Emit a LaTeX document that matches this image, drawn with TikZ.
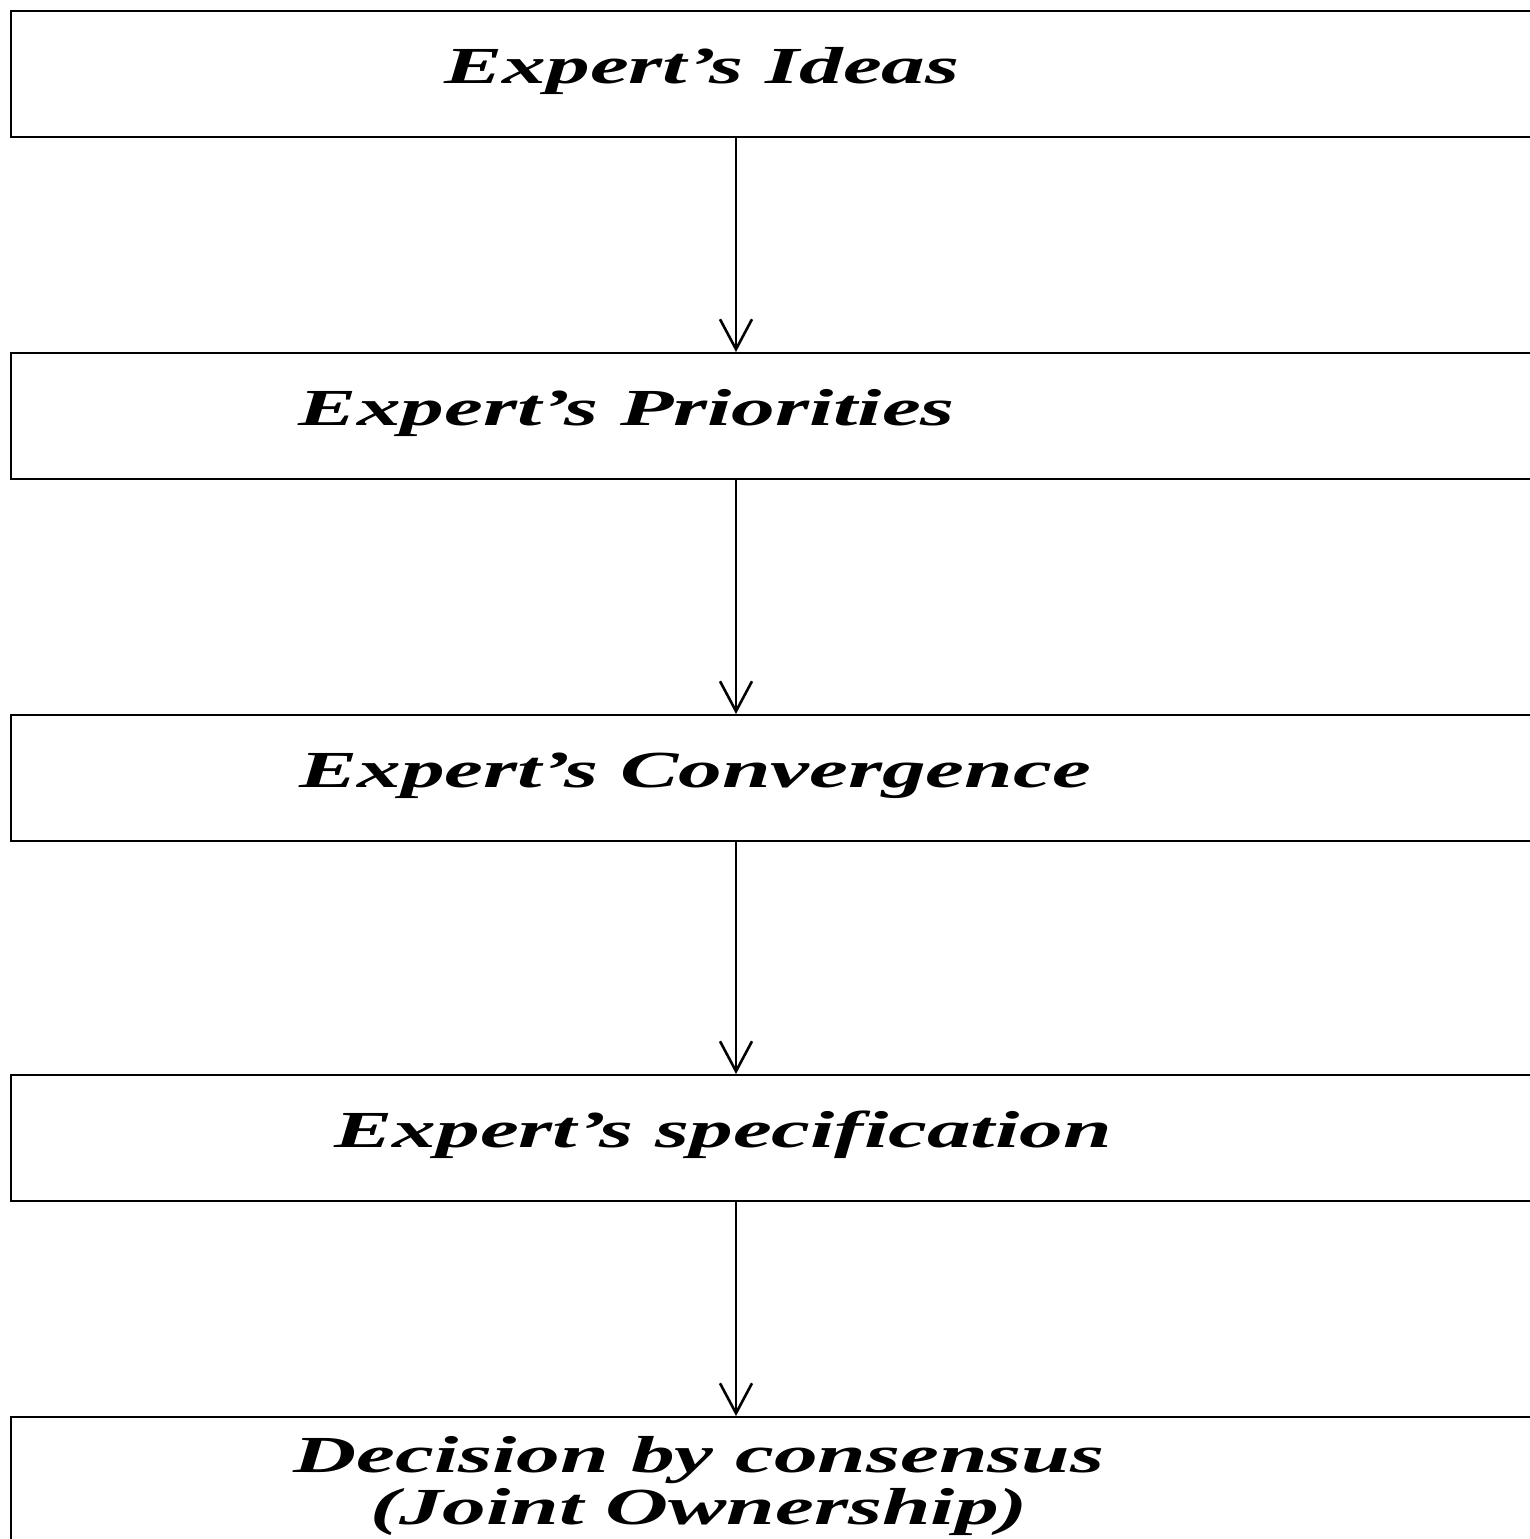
\documentclass[tikz,border=0pt]{standalone}
\usepackage{fontspec}
\newfontfamily\stagefont[FakeStretch=1.68]{Liberation Serif}
\usetikzlibrary{arrows.meta}
\begin{document}
\begin{tikzpicture}[x=1pt,y=-1pt,
  stagebox/.style={draw=black,line width=2pt,rectangle,anchor=north west,
    minimum width=1560pt,minimum height=126pt,inner sep=0pt},
  stagetext/.style={anchor=base,inner sep=0pt,
    font=\stagefont\bfseries\itshape\fontsize{52}{56}\selectfont},
  flow/.style={draw=black,line width=1.8pt,
    -{Straight Barb[length=30pt,width=32pt,line width=2.6pt]}}]
\useasboundingbox (0,0) rectangle (1530,1539);
\clip (0,0) rectangle (1530,1539);
% process stages
\node[stagebox] (b1) at (10,10) {};
\node[stagebox] (b2) at (10,352) {};
\node[stagebox] (b3) at (10,714) {};
\node[stagebox] (b4) at (10,1074) {};
\node[stagebox] (b5) at (10,1416) {};
% stage labels
\node[stagetext] (t1) at (702,83) {Expert’s Ideas};
\node[stagetext] (t2) at (627,425) {Expert’s Priorities};
\node[stagetext] (t3) at (695,787) {Expert’s Convergence};
\node[stagetext] (t4) at (723,1147) {Expert’s specification};
\node[stagetext] (t5a) at (699,1472) {Decision by consensus};
\node[stagetext] (t5b) at (699,1524) {(Joint Ownership)};
% connectors along x = 736
\coordinate (c) at (736,0);
\draw[flow] (b1.south west -| c) -- (b2.north west -| c);
\draw[flow] (b2.south west -| c) -- (b3.north west -| c);
\draw[flow] (b3.south west -| c) -- (b4.north west -| c);
\draw[flow] (b4.south west -| c) -- (b5.north west -| c);
\end{tikzpicture}
\end{document}
